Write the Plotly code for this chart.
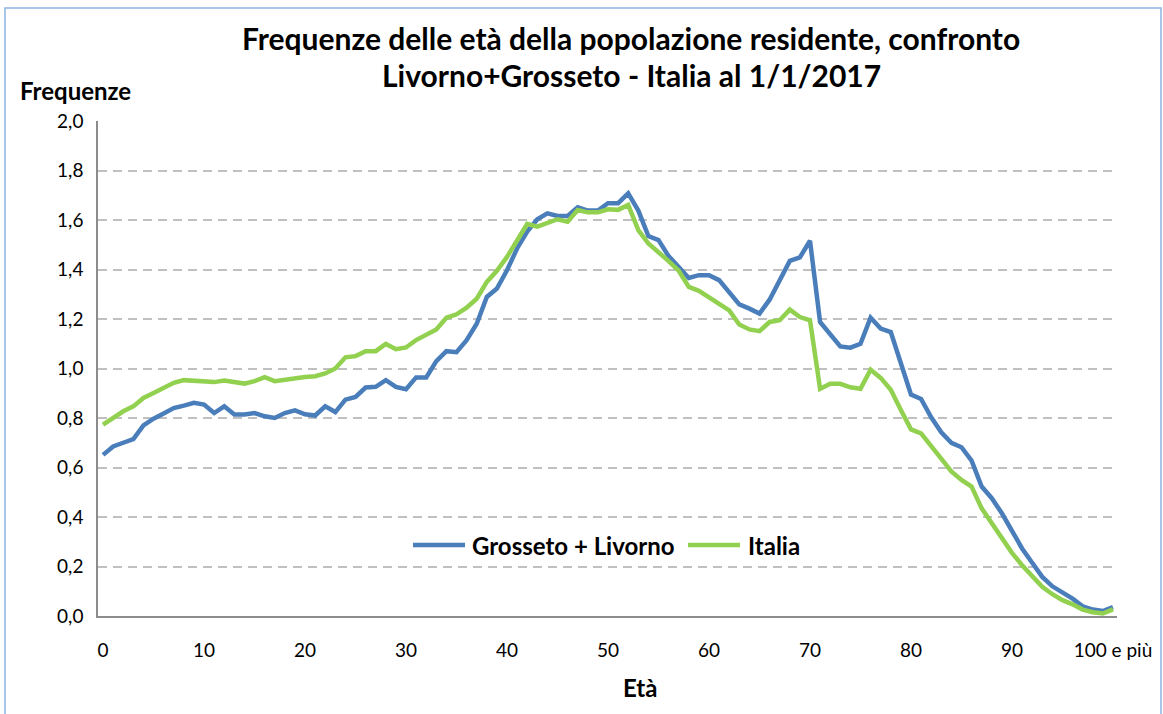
import plotly.graph_objects as go

eta = list(range(101))
tick_vals = [0, 10, 20, 30, 40, 50, 60, 70, 80, 90, 100]
tick_text = ["0", "10", "20", "30", "40", "50", "60", "70", "80", "90", "100 e più"]

grosseto_livorno = [
    0.651, 0.685, 0.700, 0.715, 0.770, 0.797, 0.818, 0.840, 0.850, 0.861,
    0.854, 0.820, 0.847, 0.814, 0.814, 0.820, 0.807, 0.800, 0.820, 0.831,
    0.815, 0.810, 0.847, 0.824, 0.874, 0.885, 0.923, 0.926, 0.953, 0.926,
    0.916, 0.964, 0.964, 1.030, 1.070, 1.066, 1.114, 1.181, 1.289, 1.323,
    1.397, 1.485, 1.553, 1.603, 1.627, 1.616, 1.616, 1.651, 1.638, 1.638,
    1.668, 1.668, 1.708, 1.638, 1.535, 1.519, 1.454, 1.408, 1.366, 1.377,
    1.377, 1.357, 1.309, 1.259, 1.242, 1.222, 1.278, 1.357, 1.435, 1.449,
    1.516, 1.188, 1.138, 1.089, 1.084, 1.100, 1.205, 1.161, 1.147, 1.019,
    0.895, 0.877, 0.803, 0.742, 0.700, 0.682, 0.628, 0.523, 0.476, 0.415,
    0.341, 0.273, 0.215, 0.158, 0.120, 0.097, 0.070, 0.039, 0.026, 0.020,
    0.036,
]

italia = [
    0.773, 0.800, 0.827, 0.847, 0.881, 0.901, 0.924, 0.942, 0.953, 0.949,
    0.949, 0.945, 0.951, 0.946, 0.939, 0.949, 0.965, 0.949, 0.955, 0.962,
    0.966, 0.969, 0.980, 1.000, 1.045, 1.050, 1.070, 1.070, 1.099, 1.078,
    1.085, 1.115, 1.135, 1.158, 1.205, 1.219, 1.246, 1.282, 1.350, 1.395,
    1.451, 1.519, 1.584, 1.573, 1.586, 1.603, 1.593, 1.640, 1.631, 1.631,
    1.643, 1.641, 1.661, 1.559, 1.505, 1.472, 1.434, 1.395, 1.330, 1.314,
    1.286, 1.262, 1.235, 1.178, 1.158, 1.151, 1.188, 1.195, 1.238, 1.208,
    1.195, 0.918, 0.938, 0.938, 0.924, 0.918, 0.995, 0.962, 0.914, 0.832,
    0.754, 0.738, 0.688, 0.638, 0.584, 0.550, 0.523, 0.435, 0.377, 0.318,
    0.255, 0.205, 0.161, 0.118, 0.088, 0.064, 0.047, 0.026, 0.015, 0.010,
    0.027,
]

series_names = ["Grosseto + Livorno", "Italia"]
series_colors = ["#4a7ebb", "#92d050"]
series_values = [grosseto_livorno, italia]

FONT = "Lato"

fig = go.Figure()
for name, color, vals in zip(series_names, series_colors, series_values):
    fig.add_trace(go.Scatter(
        x=eta, y=vals, mode="lines", name=name,
        line=dict(color=color, width=4.5), showlegend=False,
    ))

# pixel helpers for placement (plot area: x 98..1117, y 121..616)
L, R, T, B = 98, 1117, 121, 616
def px(x):
    return (x - L) / (R - L)
def py(y):
    return (B - y) / (B - T)

# Legend drawn Excel-style (long line samples) inside the plot
legend_y = py(545)
legend_items = [(413, 465, 470), (688, 740, 746)]  # sample x0, x1, text x (pixels)
legend_shapes = []
legend_annots = []
for (x0, x1, tx), name, color in zip(legend_items, series_names, series_colors):
    legend_shapes.append(dict(type="line", xref="paper", yref="paper",
                              x0=px(x0), x1=px(x1), y0=legend_y, y1=legend_y,
                              line=dict(color=color, width=4.5)))
    legend_annots.append(dict(text="<b>%s</b>" % name, xref="paper", yref="paper",
                              x=px(tx), y=legend_y, xanchor="left", yanchor="middle",
                              showarrow=False, font=dict(family=FONT, size=24)))

fig.update_layout(
    width=1163, height=714,
    margin=dict(l=L, r=1163 - R, t=T, b=714 - B, autoexpand=False),
    paper_bgcolor="white", plot_bgcolor="white",
    separators=",.",
    font=dict(family=FONT, size=19, color="#000000"),
    showlegend=False,
    xaxis=dict(
        range=[-0.5, 100.4], tickmode="array", tickvals=tick_vals, ticktext=tick_text,
        showgrid=False, zeroline=False, showline=True, linecolor="#8c8c8c", linewidth=1.5,
        ticks="", ticklabelstandoff=16, tickfont=dict(family=FONT, size=19),
        automargin=False, fixedrange=True,
    ),
    yaxis=dict(
        range=[0, 2.0], dtick=0.2, tickformat=".1f",
        showgrid=True, gridcolor="#c0c0c0", gridwidth=2, griddash="9px,6px",
        zeroline=False, showline=True, linecolor="#8c8c8c", linewidth=1.5,
        ticks="", ticklabelstandoff=9, tickfont=dict(family=FONT, size=19),
        automargin=False, fixedrange=True,
    ),
    annotations=[
        dict(text="<b>Frequenze delle età della popolazione residente, confronto</b>",
             xref="paper", yref="paper", x=px(631), y=py(38), xanchor="center", yanchor="middle",
             showarrow=False, font=dict(family=FONT, size=30)),
        dict(text="<b>Livorno+Grosseto - Italia al 1/1/2017</b>",
             xref="paper", yref="paper", x=px(631), y=py(75), xanchor="center", yanchor="middle",
             showarrow=False, font=dict(family=FONT, size=30)),
        dict(text="<b>Frequenze</b>",
             xref="paper", yref="paper", x=px(75), y=py(90), xanchor="center", yanchor="middle",
             showarrow=False, font=dict(family=FONT, size=24)),
        dict(text="<b>Età</b>",
             xref="paper", yref="paper", x=px(640), y=py(687), xanchor="center", yanchor="middle",
             showarrow=False, font=dict(family=FONT, size=24)),
    ] + legend_annots,
    shapes=[
        dict(type="rect", xref="paper", yref="paper",
             x0=px(5), x1=px(1161), y0=py(730), y1=py(8),
             line=dict(color="#8db3e2", width=1.5), fillcolor="rgba(0,0,0,0)", layer="below"),
    ] + legend_shapes,
)

fig.write_html(
    "out.html",
    config={"displayModeBar": False},
    post_script="document.body.style.margin='0';document.body.style.padding='0';",
)
